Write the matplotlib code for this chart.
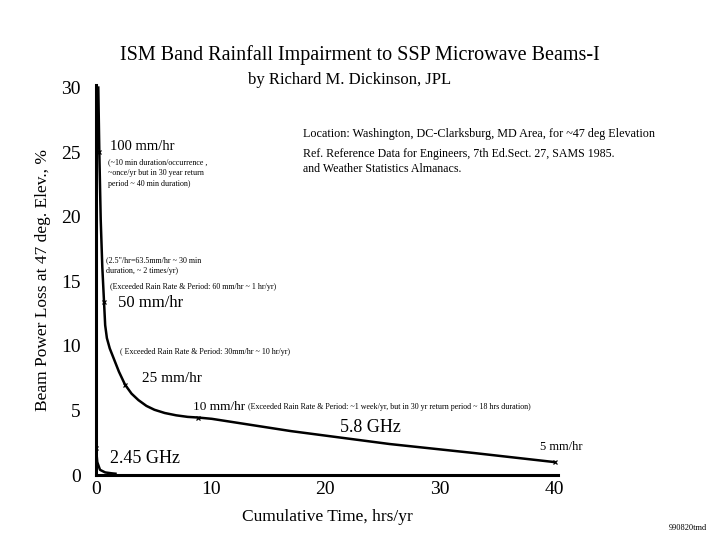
import matplotlib
matplotlib.use("Agg")
import matplotlib.pyplot as plt

plt.rcParams["font.family"] = ["Liberation Serif", "DejaVu Serif"]

# 5.8 GHz beam loss curve (cumulative hrs/yr, % loss)
hrs_58 = [0.20, 0.29, 0.41, 0.55, 0.70, 0.80, 0.95, 1.20, 1.60, 2.00, 2.53, 3.10,
          3.70, 4.40, 5.10, 6.00, 7.00, 8.00, 8.90, 10.1, 17.0, 25.6, 33.0, 40.0]
loss_58 = [30.0, 25.0, 19.8, 16.1, 13.4, 11.6, 10.6, 9.8, 8.9, 8.0, 7.0, 6.3,
           5.8, 5.35, 5.05, 4.8, 4.62, 4.5, 4.45, 4.35, 3.4, 2.4, 1.7, 1.0]

# rain rate marks on the 5.8 GHz curve
mark_hrs = [0.29, 0.70, 2.53, 8.90, 40.0]
mark_loss = [25.0, 13.4, 7.0, 4.45, 1.0]

# 2.45 GHz curve
hrs_245 = [0.0, 0.11, 0.35, 0.80, 1.37, 1.7]
loss_245 = [2.1, 1.0, 0.4, 0.2, 0.13, 0.1]

x_ticks = [0, 10, 20, 30, 40]
y_ticks = [0, 5, 10, 15, 20, 25, 30]

fig = plt.figure(figsize=(7.2, 5.4), dpi=100)
ax = fig.add_axes([96 / 720, 65 / 540, 462 / 720, 390 / 540])

ax.plot(hrs_58, loss_58, color="black", lw=1.8, solid_joinstyle="round")
ax.plot(mark_hrs, mark_loss, "x", color="black", ms=3.5, mew=0.9)
ax.plot(hrs_245, loss_245, color="black", lw=1.8, solid_joinstyle="round")
ax.plot(hrs_245[:1], loss_245[:1], "x", color="black", ms=3, mew=0.9)

ax.set_xlim(0, 40.3)
ax.set_ylim(0, 30.2)
ax.set_xticks(x_ticks)
ax.set_yticks(y_ticks)
ax.tick_params(length=0, labelsize=14)
ax.tick_params(axis="y", pad=11)
ax.tick_params(axis="x", pad=4)
for side in ["top", "right"]:
    ax.spines[side].set_visible(False)
for side in ["left", "bottom"]:
    ax.spines[side].set_linewidth(2.2)

ax.set_xlabel("Cumulative Time, hrs/yr", fontsize=12.5, labelpad=8)
ax.set_ylabel("Beam Power Loss at 47 deg. Elev., %", fontsize=12.5, labelpad=7)

fig.text(0.5, 1 - 55 / 540, "ISM Band Rainfall Impairment to SSP Microwave Beams-I",
         ha="center", va="center", fontsize=14.5)
fig.text(350 / 720, 1 - 80 / 540, "by Richard M. Dickinson, JPL",
         ha="center", va="center", fontsize=12)
fig.text(707 / 720, 1 - 528 / 540, "990820tmd", ha="right", va="center", fontsize=6)

small = 5.8
ax.text(18.06, 26.43, "Location: Washington, DC-Clarksburg, MD Area, for ~47 deg Elevation",
        fontsize=8.7, va="center")
ax.text(18.06, 24.3, "Ref. Reference Data for Engineers, 7th Ed.Sect. 27, SAMS 1985.\n"
        "and Weather Statistics Almanacs.", fontsize=8.6, va="center", linespacing=1.3)

ax.text(1.22, 25.4, "100 mm/hr", fontsize=10.5, va="center")
ax.text(1.05, 23.4, "(~10 min duration/occurrence ,\n~once/yr but in 30 year return\n"
        "period ~ 40 min duration)", fontsize=small, va="center", linespacing=1.45)
ax.text(0.87, 16.2, "(2.5\"/hr=63.5mm/hr ~ 30 min\nduration, ~ 2 times/yr)",
        fontsize=small, va="center", linespacing=1.45)
ax.text(1.22, 14.57, "(Exceeded Rain Rate & Period: 60 mm/hr ~ 1 hr/yr)",
        fontsize=small, va="center")
ax.text(1.92, 13.33, "50 mm/hr", fontsize=12, va="center")
ax.text(2.09, 9.53, "( Exceeded Rain Rate & Period: 30mm/hr ~ 10 hr/yr)",
        fontsize=small, va="center")
ax.text(4.01, 7.44, "25 mm/hr", fontsize=11, va="center")
ax.text(8.46, 5.27, "10 mm/hr", fontsize=9.5, va="center")
ax.text(13.26, 5.27, "(Exceeded Rain Rate & Period: ~1 week/yr, but in 30 yr return period ~ 18 hrs duration)",
        fontsize=small, va="center")
ax.text(21.3, 3.64, "5.8 GHz", fontsize=13, va="center")
ax.text(38.74, 2.17, "5 mm/hr", fontsize=9, va="center")
ax.text(1.22, 1.24, "2.45 GHz", fontsize=13, va="center")

fig.savefig("out.png", dpi=100, facecolor="white")
